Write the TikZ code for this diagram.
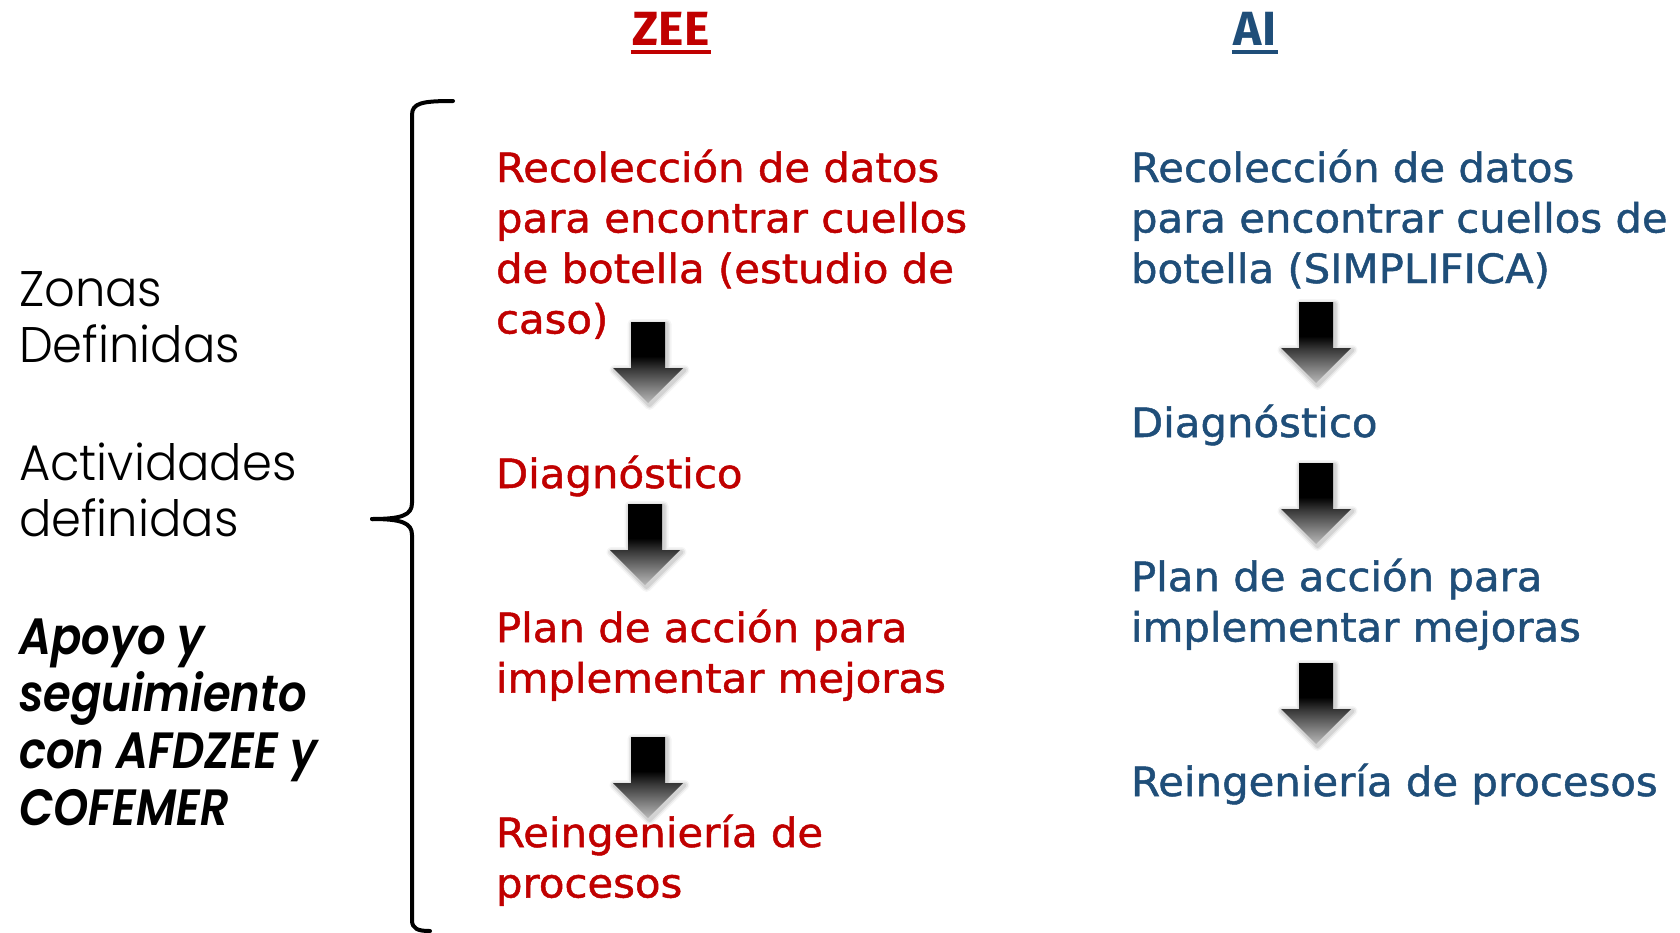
\documentclass[tikz,border=0pt]{standalone}
\usepackage{fontspec}
\setmainfont{DejaVu Sans}
\newfontfamily\bodyf{DejaVu Sans}[FakeStretch=1.035, FakeBold=1.2]
\newfontfamily\lightf{Poppins Light}[FakeStretch=0.96]
\newfontfamily\bif{Poppins SemiBold Italic}[FakeStretch=0.88]
\newfontfamily\titlef{Fira Sans}
\definecolor{zred}{HTML}{C00000}
\definecolor{zblue}{HTML}{1F4E79}
\definecolor{atip}{HTML}{B8B8B8}
\definecolor{amid}{HTML}{383838}
\pgfdeclareverticalshading{arrowsh}{100bp}{color(0bp)=(atip); color(25bp)=(atip); color(46bp)=(amid); color(54bp)=(black); color(100bp)=(black)}
\newcommand\blk[1]{\parbox[t]{300pt}{\raggedright #1}}
\tikzset{
  txt/.style={anchor=base west, inner sep=0pt, outer sep=0pt},
  redtxt/.style={txt, text=zred, font=\bodyf\fontsize{20.2pt}{25.25pt}\selectfont},
  bluetxt/.style={txt, text=zblue, font=\bodyf\fontsize{20.2pt}{25.25pt}\selectfont},
  lefttxt/.style={txt, text=black, font=\lightf\fontsize{25pt}{28pt}\selectfont},
  leftbi/.style={txt, text=black, font=\bif\fontsize{25.5pt}{28.5pt}\selectfont},
  titletxt/.style={anchor=base, inner sep=0pt, outer sep=0pt, font=\titlef\bfseries\fontsize{24pt}{28pt}\selectfont},
  underl/.style={line width=2pt},
  bracestyle/.style={line width=2pt, black, line cap=round, line join=round},
  darr/.pic={
    \foreach \w/\o in {10/0.04,7/0.06,4/0.08}{
      \draw[line width=\w*0.5pt, black, opacity=\o, line join=round, shift={(1.5,2)}]
        (-17,0) -- (17,0) -- (17,46) -- (35,46) -- (0,81) -- (-35,46) -- (-17,46) -- cycle;}
    \shade[shading=arrowsh]
      (-17,0) -- (17,0) -- (17,46) -- (35,46) -- (0,81) -- (-35,46) -- (-17,46) -- cycle;
  }
}
\begin{document}
\begin{tikzpicture}[x=0.5pt, y=-0.5pt]
\useasboundingbox (0,0) rectangle (1680,932);
\fill[white] (0,0) rectangle (1680,932);

% titles
\node[titletxt, text=zred] (zee) at (671,45) {ZEE};
\draw[underl, zred] ([xshift=-1pt, yshift=-3.5pt]zee.base west) -- ([xshift=1pt, yshift=-3.5pt]zee.base east);
\node[titletxt, text=zblue] (ai) at (1255,45) {AI};
\draw[underl, zblue] ([xshift=-1pt, yshift=-3.5pt]ai.base west) -- ([xshift=1pt, yshift=-3.5pt]ai.base east);

% left column
\node[lefttxt] (zonas) at (19,306) {\blk{Zonas\\Definidas}};
\node[lefttxt] (activ) at (19,480) {\blk{Actividades\\definidas}};
\node[leftbi] (apoyo) at (19,654) {\blk{Apoyo y\\seguimiento\\con AFDZEE y\\COFEMER}};

% brace
\draw[bracestyle] (453,101) .. controls (422,101) and (412,103) .. (412,115) -- (412,503)
  .. controls (412,515) and (402,519) .. (372,519);
\draw[bracestyle] (372,519) .. controls (402,519) and (412,523) .. (412,535) -- (412,920)
  .. controls (412,929) and (418,931) .. (430,931);

% red column
\node[redtxt] (r1) at (496,182) {\blk{Recolección de datos\\para encontrar cuellos\\de botella (estudio de\\caso)}};
\node[redtxt] (r2) at (496,488) {\blk{Diagnóstico}};
\node[redtxt] (r3) at (496,642) {\blk{Plan de acción para\\implementar mejoras}};
\node[redtxt] (r4) at (496,847) {\blk{Reingeniería de\\procesos}};

% blue column
\node[bluetxt] (b1) at (1131,182) {\blk{Recolección de datos\\para encontrar cuellos de\\botella (SIMPLIFICA)}};
\node[bluetxt] (b2) at (1131,437) {\blk{Diagnóstico}};
\node[bluetxt] (b3) at (1131,591) {\blk{Plan de acción para\\implementar mejoras}};
\node[bluetxt] (b4) at (1131,796) {\blk{Reingeniería de procesos}};

% arrows
\pic at (648,322) {darr};
\pic at (645,504) {darr};
\pic at (648,737) {darr};
\pic at (1316,302) {darr};
\pic at (1316,463) {darr};
\pic at (1316,663) {darr};
\end{tikzpicture}
\end{document}
